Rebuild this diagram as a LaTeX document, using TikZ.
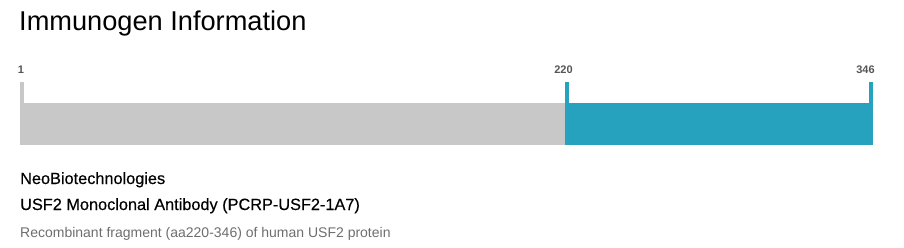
\documentclass[tikz,border=0pt]{standalone}
\usepackage{fontspec}
\setmainfont{Liberation Sans}
\definecolor{barGray}{RGB}{200,200,200}
\definecolor{barTeal}{RGB}{38,161,190}
\definecolor{tickText}{RGB}{85,85,85}
\definecolor{subText}{RGB}{110,110,110}
\begin{document}
\begin{tikzpicture}[x=1pt,y=-1pt,
  ticklabel/.style={font=\fontsize{11}{12}\selectfont\bfseries, text=tickText, inner sep=0pt, anchor=base},
  txt/.style={inner sep=0pt, anchor=base west},
  medium/.style={font=\fontsize{16.3}{18}\selectfont\addfontfeature{FakeBold=0.4}}]
\useasboundingbox (0,0) rectangle (904,247);
\node[txt, font=\fontsize{27.2}{30}\selectfont] (title) at (19,30) {Immunogen Information};
% bars
\fill[barGray] (20,103) rectangle (565,145);
\fill[barGray] (20,82) rectangle (24,103);
\fill[barTeal] (565,103) rectangle (873,145);
\fill[barTeal] (565,82) rectangle (569,103);
\fill[barTeal] (869,82) rectangle (873,103);
\node[ticklabel] (l1) at (21,73) {1};
\node[ticklabel] (l220) at (563.5,73) {220};
\node[ticklabel] (l346) at (865.5,73) {346};
\node[txt, medium] (vendor) at (20,184) {NeoBiotechnologies};
\node[txt, medium] (prod) at (20,210) {USF2 Monoclonal Antibody (PCRP-USF2-1A7)};
\node[txt, font=\fontsize{14}{16}\selectfont, text=subText] (desc) at (20,237.5) {Recombinant fragment (aa220-346) of human USF2 protein};
\end{tikzpicture}
\end{document}
